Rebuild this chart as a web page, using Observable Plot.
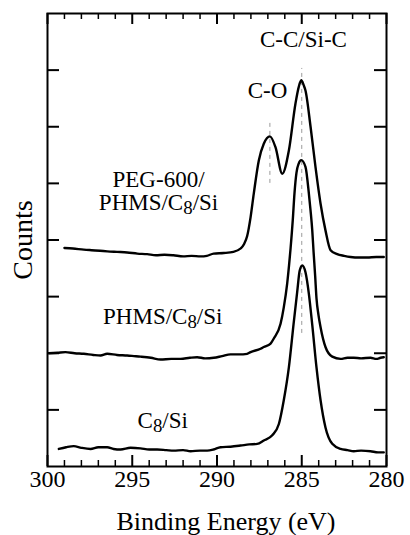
<!DOCTYPE html>
<html><head><meta charset="utf-8">
<script src="https://cdn.jsdelivr.net/npm/d3@7"></script>
<script src="https://cdn.jsdelivr.net/npm/@observablehq/plot@0.6"></script>
<style>body{margin:0;background:#fff;} #chart svg{display:block;}</style>
</head><body><div id="chart"></div>
<script>
// Binding energy (eV) and counts (arbitrary, offset) for each spectrum
const energyC8 = [299.33,298.9,298.45,298.0,297.46,297.0,296.48,296.1,295.69,295.1,294.51,294.0,293.53,293.0,292.55,292.0,291.56,291.0,290.58,290.2,289.79,289.2,288.61,288.1,287.63,287.24,286.74,286.35,286.06,285.76,285.47,285.27,285.12,284.97,284.78,284.58,284.38,284.13,283.89,283.6,283.2,282.71,282.3,281.93,281.5,280.94,280.5,280.16];
const countsC8 = [0.31,0.34,0.36,0.33,0.31,0.34,0.34,0.31,0.30,0.33,0.32,0.30,0.30,0.29,0.28,0.29,0.27,0.28,0.28,0.30,0.34,0.35,0.37,0.39,0.40,0.46,0.55,0.75,1.17,1.75,2.55,3.08,3.46,3.55,3.43,3.05,2.50,1.75,1.17,0.69,0.40,0.31,0.29,0.27,0.28,0.27,0.25,0.25];

const energyPHMS = [299.92,299.4,298.94,298.4,297.86,297.3,296.87,296.48,295.9,295.3,294.9,294.51,293.9,293.33,292.7,292.15,291.6,291.17,290.7,290.19,289.7,289.2,288.7,288.22,288.02,287.43,287.24,286.84,286.65,286.25,286.06,285.86,285.75,285.66,285.53,285.43,285.31,285.18,285.03,284.78,284.58,284.48,284.38,284.3,284.21,284.13,284.01,283.89,283.6,283.2,282.71,282.3,281.93,281.5,280.94,280.6,280.35,280.16];
const countsPHMS = [2.00,2.01,2.02,2.00,1.99,1.97,1.96,1.99,1.97,1.96,1.95,1.94,1.92,1.89,1.90,1.90,1.92,1.93,1.91,1.92,1.95,1.98,1.98,1.99,2.02,2.08,2.11,2.17,2.26,2.52,2.81,3.23,3.55,3.85,4.35,4.82,5.19,5.35,5.41,5.29,4.82,4.52,4.17,3.78,3.37,2.97,2.67,2.46,2.11,1.94,1.90,1.92,1.92,1.91,1.92,1.90,1.92,1.93];

const energyPEG = [299.0,298.5,297.86,297.4,296.9,296.48,295.9,295.3,294.7,294.12,293.6,293.1,292.57,292.0,291.5,290.97,290.6,290.2,289.6,289.03,288.61,288.4,288.22,288.02,287.83,287.53,287.24,286.88,286.55,286.15,285.76,285.37,285.18,285.03,284.88,284.78,284.48,284.19,283.89,283.6,283.3,282.91,282.5,282.12,281.6,281.14,280.6,280.16];
const countsPEG = [3.86,3.85,3.83,3.82,3.81,3.80,3.79,3.78,3.76,3.75,3.73,3.74,3.73,3.71,3.72,3.71,3.72,3.76,3.77,3.79,3.85,3.93,4.07,4.40,4.82,5.41,5.70,5.83,5.64,5.17,5.58,6.41,6.70,6.82,6.73,6.64,6.00,5.29,4.64,4.17,3.82,3.75,3.72,3.70,3.69,3.69,3.70,3.70];

const xTickLabels = [300,295,290,285,280];
const xMinorTicks = [299,298,297,296,294,293,292,291,289,288,287,286,284,283,282,281];
const yTicks = [1,2,3,4,5,6,7];

const peakEnergies = [285.0, 286.88];
const peakLineBottoms = [2.35, 5.0];
const peakLineTops = [7.03, 6.11];

const labelTexts = ["C-C/Si-C","C-O","PEG-600/\nPHMS/C8/Si","PHMS/C8/Si","C8/Si"];
const labelEnergies = [284.9, 287.02, 293.45, 293.2, 293.2];
const labelCounts = [7.53, 6.63, 4.86, 2.65, 0.81];

const xTitle = "Binding Energy (eV)";
const yTitle = "Counts";

const toRows = (e, c) => e.map((x, i) => ({energy: x, counts: c[i]}));
const series = [toRows(energyPEG, countsPEG), toRows(energyPHMS, countsPHMS), toRows(energyC8, countsC8)];
const peakRows = peakEnergies.map((e, i) => ({energy: e, y1: peakLineBottoms[i], y2: peakLineTops[i]}));
const labelRows = labelTexts.map((t, i) => ({text: t, energy: labelEnergies[i], counts: labelCounts[i]}));

const W = 410, H = 535, mL = 47, mR = 24, mT = 13, mB = 69;
const innerH = H - mT - mB, innerW = W - mL - mR;

const plot = Plot.plot({
  width: W, height: H,
  marginLeft: mL, marginRight: mR, marginTop: mT, marginBottom: mB,
  style: {fontFamily: "'Liberation Serif', 'Times New Roman', serif", background: "white", color: "black"},
  x: {domain: [300, 280], axis: null},
  y: {domain: [0, 8], axis: null},
  marks: [
    Plot.ruleX(peakRows, {x: "energy", y1: "y1", y2: "y2", stroke: "#9a9a9a", strokeWidth: 1, strokeDasharray: "4,4"}),
    ...series.map(s => Plot.line(s, {x: "energy", y: "counts", stroke: "black", strokeWidth: 2.4, curve: "monotone-x"})),
    // inward ticks
    Plot.tickX(xTickLabels, {x: d => d, insetTop: innerH - 11, stroke: "black", strokeWidth: 2}),
    Plot.tickX(xTickLabels, {x: d => d, insetBottom: innerH - 11, stroke: "black", strokeWidth: 2}),
    Plot.tickX(xMinorTicks, {x: d => d, insetTop: innerH - 6, stroke: "black", strokeWidth: 1.5}),
    Plot.tickX(xMinorTicks, {x: d => d, insetBottom: innerH - 6, stroke: "black", strokeWidth: 1.5}),
    Plot.tickY(yTicks, {y: d => d, insetRight: innerW - 12, stroke: "black", strokeWidth: 2}),
    Plot.tickY(yTicks, {y: d => d, insetLeft: innerW - 12, stroke: "black", strokeWidth: 2}),
    Plot.frame({stroke: "black", strokeWidth: 2}),
    Plot.axisX({ticks: xTickLabels, tickSize: 0, tickPadding: 3, fontSize: 24, label: null, tickFormat: d => String(d)}),
    Plot.text([xTitle], {frameAnchor: "bottom", dy: 55, dx: 9, textAnchor: "middle", lineAnchor: "middle", fontSize: 26}),
    Plot.text([yTitle], {frameAnchor: "left", dx: -24, rotate: -90, textAnchor: "middle", lineAnchor: "middle", fontSize: 28}),
    Plot.text(labelRows, {x: "energy", y: "counts", text: "text", fontSize: 23, lineAnchor: "middle", lineHeight: 1.0, fill: "black"})
  ]
});

// subscript the 8 in "C8"
(function subscript(svg){
  const ns = "http://www.w3.org/2000/svg";
  const walker = document.createTreeWalker(svg, NodeFilter.SHOW_TEXT);
  const nodes = [];
  while (walker.nextNode()) nodes.push(walker.currentNode);
  for (const n of nodes) {
    const s = n.nodeValue;
    const i = s.indexOf("C8");
    if (i < 0) continue;
    const frag = document.createDocumentFragment();
    frag.appendChild(document.createTextNode(s.slice(0, i + 1)));
    const sub = document.createElementNS(ns, "tspan");
    sub.setAttribute("dy", "4");
    sub.setAttribute("font-size", "82%");
    sub.textContent = "8";
    frag.appendChild(sub);
    const rest = document.createElementNS(ns, "tspan");
    rest.setAttribute("dy", "-4");
    rest.textContent = s.slice(i + 2);
    frag.appendChild(rest);
    n.parentNode.replaceChild(frag, n);
  }
})(plot);

document.getElementById("chart").appendChild(plot);
</script>
</body></html>
